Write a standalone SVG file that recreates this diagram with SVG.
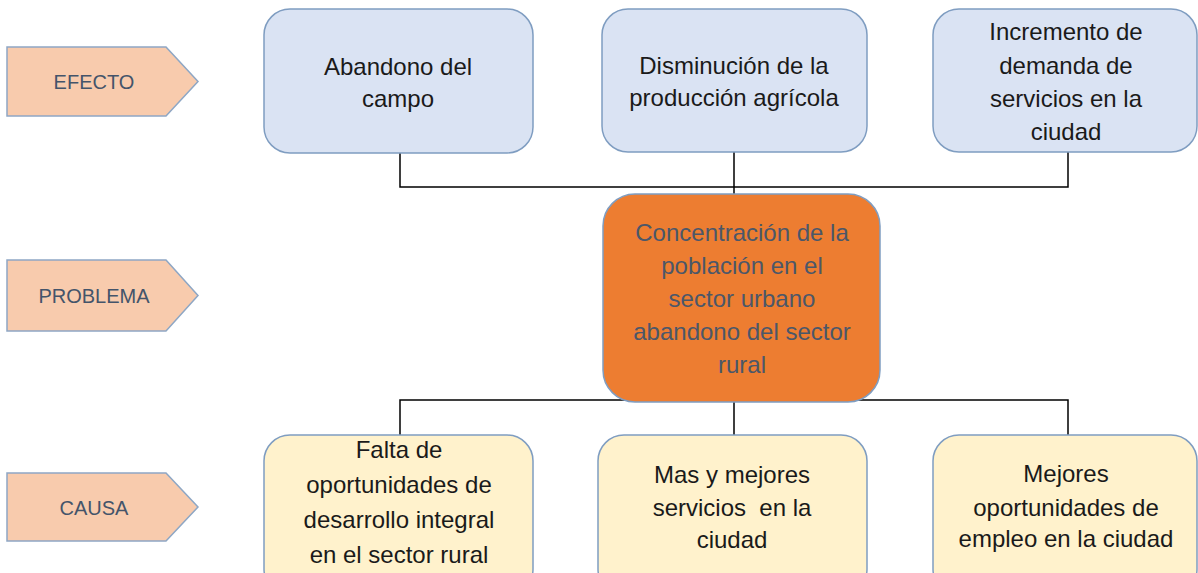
<svg xmlns="http://www.w3.org/2000/svg" width="1198" height="573" viewBox="0 0 1198 573">
<style>
.lbl{fill:#f8cbad;stroke:#8ea7c5;stroke-width:1.5}
.lt{font-family:"Liberation Sans",Arial,sans-serif;font-size:20px;fill:#44546a;text-anchor:middle}
.eff{fill:#dae3f3;stroke:#7f9dc1;stroke-width:1.5}
.cau{fill:#fff2cc;stroke:#7f9dc1;stroke-width:1.5}
.prob{fill:#ed7d31;stroke:#7f9dc1;stroke-width:1.5}
.t{font-family:"Liberation Sans",Arial,sans-serif;font-size:24px;fill:#1a1a1a;text-anchor:middle}
.tp{font-family:"Liberation Sans",Arial,sans-serif;font-size:24px;fill:#4b5769;text-anchor:middle}
.con{fill:none;stroke:#000;stroke-width:1.5}
</style>
<rect width="1198" height="573" fill="#fff"/>
<g id="connectors">
<path class="con" d="M400,153 V187 H1068 V152 M734,152 V195"/>
<path class="con" d="M400,435 V400 H1068 V435 M734,400 V435"/>
</g>
<g id="label-efecto">
<polygon class="lbl" points="7,47 166,47 198,81.5 166,116 7,116"/>
<text class="lt" x="94" y="89">EFECTO</text>
</g>
<g id="label-problema">
<polygon class="lbl" points="7,260 166,260 198,295.5 166,331 7,331"/>
<text class="lt" x="94" y="303">PROBLEMA</text>
</g>
<g id="label-causa">
<polygon class="lbl" points="7,473 166,473 198,507 166,541 7,541"/>
<text class="lt" x="94" y="515">CAUSA</text>
</g>
<g id="efecto1">
<rect class="eff" x="264" y="9" width="269" height="144" rx="26"/>
<text class="t" x="398" y="75">Abandono del</text>
<text class="t" x="398" y="107">campo</text>
</g>
<g id="efecto2">
<rect class="eff" x="602" y="9" width="265" height="143" rx="26"/>
<text class="t" x="734" y="74">Disminución de la</text>
<text class="t" x="734" y="106">producción agrícola</text>
</g>
<g id="efecto3">
<rect class="eff" x="933" y="9" width="264" height="143" rx="26"/>
<text class="t" x="1066" y="40">Incremento de</text>
<text class="t" x="1066" y="74">demanda de</text>
<text class="t" x="1066" y="107">servicios en la</text>
<text class="t" x="1066" y="140">ciudad</text>
</g>
<g id="problema">
<rect class="prob" x="603" y="194" width="277" height="208" rx="32"/>
<text class="tp" x="742" y="241">Concentración de la</text>
<text class="tp" x="742" y="274">población en el</text>
<text class="tp" x="742" y="307">sector urbano</text>
<text class="tp" x="742" y="340">abandono del sector</text>
<text class="tp" x="742" y="373">rural</text>
</g>
<g id="causa1">
<rect class="cau" x="264" y="435" width="269" height="160" rx="26"/>
<text class="t" x="399" y="458">Falta de</text>
<text class="t" x="399" y="493">oportunidades de</text>
<text class="t" x="399" y="528">desarrollo integral</text>
<text class="t" x="399" y="563">en el sector rural</text>
</g>
<g id="causa2">
<rect class="cau" x="598" y="435" width="269" height="160" rx="26"/>
<text class="t" x="732" y="483">Mas y mejores</text>
<text class="t" x="732" y="516">servicios&#160; en la</text>
<text class="t" x="732" y="548">ciudad</text>
</g>
<g id="causa3">
<rect class="cau" x="933" y="435" width="264" height="160" rx="26"/>
<text class="t" x="1066" y="482">Mejores</text>
<text class="t" x="1066" y="516">oportunidades de</text>
<text class="t" x="1066" y="547">empleo en la ciudad</text>
</g>
</svg>
